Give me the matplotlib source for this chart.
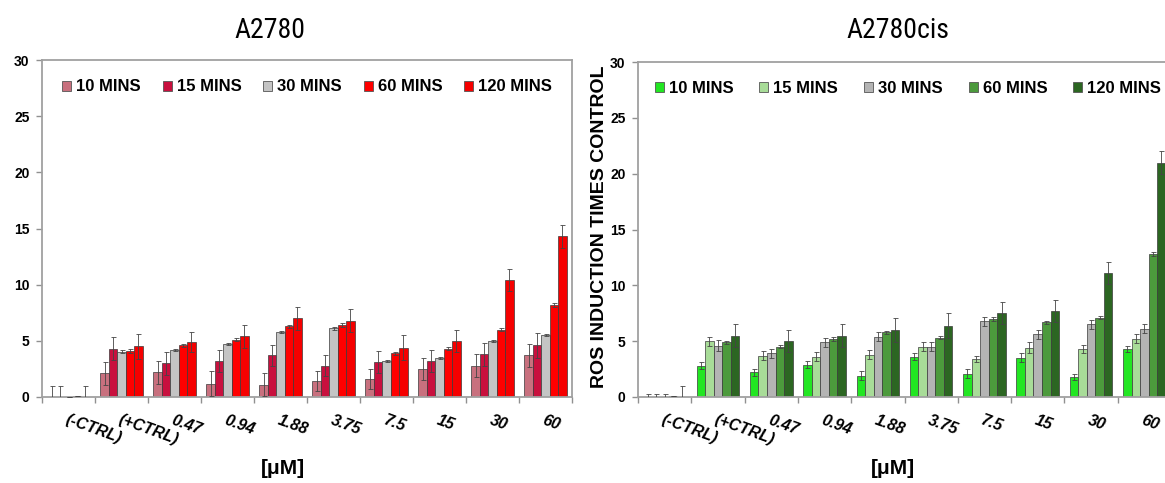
import numpy as np
import matplotlib
matplotlib.use("Agg")
import matplotlib.pyplot as plt
from matplotlib import font_manager

# ---------------- data ----------------
groups = ["(-CTRL)", "(+CTRL)", "0.47", "0.94", "1.88", "3.75", "7.5", "15", "30", "60"]
series = ["10 MINS", "15 MINS", "30 MINS", "60 MINS", "120 MINS"]

# A2780
a_10 = [0.0, 2.1, 2.2, 1.2, 1.1, 1.4, 1.6, 2.5, 2.8, 3.7]
a_15 = [0.0, 4.3, 3.0, 3.2, 3.7, 2.8, 3.1, 3.2, 3.8, 4.6]
a_30 = [0.0, 4.05, 4.2, 4.75, 5.8, 6.1, 3.2, 3.5, 5.0, 5.5]
a_60 = [0.1, 4.1, 4.6, 5.1, 6.3, 6.4, 3.9, 4.3, 6.0, 8.2]
a_120 = [0.0, 4.5, 4.9, 5.4, 7.0, 6.8, 4.4, 5.0, 10.4, 14.3]
a_10_err = [1.0, 1.0, 1.0, 1.1, 1.0, 0.9, 0.9, 1.0, 1.0, 1.0]
a_15_err = [1.0, 1.0, 1.0, 1.0, 0.9, 0.9, 1.0, 1.0, 1.0, 1.1]
a_30_err = [0.0, 0.1, 0.1, 0.1, 0.1, 0.1, 0.1, 0.1, 0.1, 0.1]
a_60_err = [0.0, 0.15, 0.15, 0.15, 0.15, 0.15, 0.15, 0.15, 0.15, 0.15]
a_120_err = [1.0, 1.1, 0.9, 1.0, 1.0, 1.0, 1.1, 1.0, 1.0, 1.0]

# A2780cis
b_10 = [0.0, 2.8, 2.2, 2.9, 1.9, 3.6, 2.1, 3.5, 1.8, 4.3]
b_15 = [0.0, 5.0, 3.7, 3.6, 3.8, 4.5, 3.4, 4.4, 4.3, 5.2]
b_30 = [0.0, 4.6, 3.9, 4.9, 5.4, 4.5, 6.8, 5.6, 6.5, 6.1]
b_60 = [0.05, 4.9, 4.5, 5.2, 5.8, 5.3, 7.0, 6.7, 7.1, 12.8]
b_120 = [0.0, 5.5, 5.0, 5.5, 6.0, 6.4, 7.5, 7.7, 11.1, 21.0]
b_10_err = [0.3, 0.3, 0.3, 0.3, 0.4, 0.3, 0.4, 0.4, 0.3, 0.3]
b_15_err = [0.3, 0.4, 0.4, 0.4, 0.4, 0.4, 0.3, 0.5, 0.4, 0.4]
b_30_err = [0.3, 0.5, 0.4, 0.4, 0.4, 0.4, 0.4, 0.4, 0.4, 0.4]
b_60_err = [0.0, 0.15, 0.15, 0.15, 0.15, 0.15, 0.15, 0.15, 0.15, 0.15]
b_120_err = [1.0, 1.0, 1.0, 1.0, 1.1, 1.1, 1.0, 1.0, 1.0, 1.0]

colors_a = ["#C8707E", "#C8103E", "#C4C4C4", "#FF0000", "#F50000"]
colors_b = ["#22E622", "#A8DC98", "#B4B4B4", "#4C9A3C", "#2C6622"]

y_ticks = [0, 5, 10, 15, 20, 25, 30]

# ---------------- figure ----------------
FONT = "Liberation Sans"
W, H = 1165, 483
fig = plt.figure(figsize=(W / 100, H / 100), dpi=100)

# pick a condensed family for the titles if one is installed
installed = {f.name for f in font_manager.fontManager.ttflist}
title_font = [f for f in ["Liberation Sans Narrow", "DejaVu Sans Condensed",
                          "Roboto Condensed", "Open Sans Condensed"]
              if f in installed] + ["Liberation Sans"]
title_stretch = "condensed"

def px_axes(x0, x1, ytop, ybot):
    return [x0 / W, 1 - ybot / H, (x1 - x0) / W, (ybot - ytop) / H]

ax_a = fig.add_axes(px_axes(42, 572, 60, 397))
ax_b = fig.add_axes(px_axes(638, 1171, 62, 397))

def draw(ax, vals, errs, colors, legend_x, colspace):
    x = np.arange(len(groups))
    bw = 0.16
    n = len(vals)
    for i, (v, e, c, lab) in enumerate(zip(vals, errs, colors, series)):
        off = (i - (n - 1) / 2) * bw
        ax.bar(x + off, v, width=bw, color=c, edgecolor="#3a3a3a",
               linewidth=0.5, label=lab, zorder=2)
        ax.errorbar(x + off, v, yerr=e, fmt="none", ecolor="#444444",
                    elinewidth=0.6, capsize=1.8, capthick=0.6, zorder=3)
    ax.set_xlim(-0.5, len(groups) - 0.5)
    ax.set_ylim(0, 30)
    ax.set_yticks(y_ticks)
    ax.set_yticklabels([str(t) for t in y_ticks], fontweight="bold",
                       fontsize=10, family=FONT)
    ax.set_xticks(np.arange(-0.5, len(groups), 1.0))
    ax.set_xticklabels([])
    ax.set_xticks(x, minor=True)
    ax.set_xticklabels(groups, minor=True)
    ax.tick_params(axis="x", which="major", length=4, direction="out",
                   color="#909090", width=1)
    ax.tick_params(axis="x", which="minor", length=0, pad=11)
    ax.tick_params(axis="y", length=4, direction="out", color="#909090",
                   width=1, pad=5)
    for lbl in ax.get_xticklabels(minor=True):
        lbl.set_rotation(-20)
        lbl.set_ha("left")
        lbl.set_va("top")
        lbl.set_rotation_mode("anchor")
        lbl.set_fontstyle("italic")
        lbl.set_fontweight("bold")
        lbl.set_fontsize(11.5)
        lbl.set_family(FONT)
    for sp in ax.spines.values():
        sp.set_color("#A0A0A0")
        sp.set_linewidth(1.3)
    leg = ax.legend(ncol=5, loc="center left", bbox_to_anchor=(legend_x, 0.92),
                    frameon=False, borderpad=0, borderaxespad=0,
                    handlelength=0.55, handleheight=0.55, handletextpad=0.3,
                    columnspacing=colspace,
                    prop={"family": FONT, "weight": "bold", "size": 12})
    for p in leg.get_patches():
        p.set_edgecolor("#555555")
        p.set_linewidth(0.6)

draw(ax_a, [a_10, a_15, a_30, a_60, a_120],
     [a_10_err, a_15_err, a_30_err, a_60_err, a_120_err], colors_a, 0.038, 1.3)
draw(ax_b, [b_10, b_15, b_30, b_60, b_120],
     [b_10_err, b_15_err, b_30_err, b_60_err, b_120_err], colors_b, 0.031, 1.55)

fig.text(270 / W, 1 - 31 / H, "A2780", ha="center", va="center",
         fontsize=20, family=title_font, fontstretch=title_stretch)
fig.text(898 / W, 1 - 31 / H, "A2780cis", ha="center", va="center",
         fontsize=20, family=title_font, fontstretch=title_stretch)
fig.text(283 / W, 1 - 469 / H, "[\u03bcM]", ha="center", va="center",
         fontsize=15, fontweight="bold", family=FONT)
fig.text(893 / W, 1 - 469 / H, "[\u03bcM]", ha="center", va="center",
         fontsize=15, fontweight="bold", family=FONT)
fig.text(600 / W, 1 - 227 / H, "ROS INDUCTION TIMES CONTROL", ha="center",
         va="center", rotation=90, fontsize=14, fontweight="bold", family=FONT)

fig.savefig("out.png", dpi=100)
